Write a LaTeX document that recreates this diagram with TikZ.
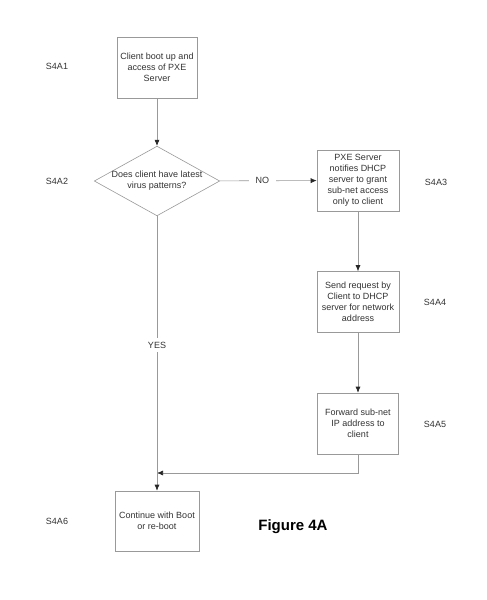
\documentclass[tikz,border=0pt]{standalone}
\usepackage{fontspec}
\setmainfont{Liberation Sans}
\usepackage{tikz}
\usetikzlibrary{arrows.meta,positioning,shapes}
\usepackage{xcolor}

\begin{document}
\begin{tikzpicture}[x=1pt, y=-1pt,
  every node/.style={font=\fontsize{9}{11}\selectfont, text=black!80},
  box/.style={rectangle, draw=black!40, line width=0.6pt, fill=white, minimum width=80pt, minimum height=61pt, align=center, inner sep=1pt},
  decision/.style={diamond, draw=black!40, line width=0.6pt, fill=white, minimum width=124pt, minimum height=68pt, shape aspect=1.8, inner sep=0pt, align=center},
  tag/.style={inner sep=0pt},
  lbl/.style={fill=white, inner xsep=7pt, inner ysep=4pt},
  flow/.style={draw=black!40, line width=0.6pt, -{Latex[length=6pt,width=5pt,color=black!85]}}]
\useasboundingbox[fill=white] (0,0) rectangle (487,600);

\node[box] (a1) at (157,67.5) {Client boot up and\\access of PXE\\Server};
\node[decision] (a2) at (157,181) {Does client have latest\\virus patterns?};
\node[box, minimum width=82pt] (a3) at (358,180.5) {PXE Server\\notifies DHCP\\server to grant\\sub-net access\\only to client};
\node[box, minimum width=82pt] (a4) at (358,302) {Send request by\\Client to DHCP\\server for network\\address};
\node[box, minimum width=81pt] (a5) at (358,423.5) {Forward sub-net\\IP address to\\client};
\node[box, minimum width=84pt, minimum height=60pt] (a6) at (157,521) {Continue with Boot\\or re-boot};
\coordinate (join) at (157,473);

\node[tag] (t1) at (57,66) {S4A1};
\node[tag] (t2) at (57,181) {S4A2};
\node[tag] (t3) at (436,182) {S4A3};
\node[tag] (t4) at (435,302) {S4A4};
\node[tag] (t5) at (435,424) {S4A5};
\node[tag] (t6) at (57,521) {S4A6};
\node[font=\fontsize{15}{18}\selectfont\bfseries, text=black] (fig) at (293,527) {Figure 4A};

\draw[flow] (a1) -- (a2);
\draw[flow] (a2) -- node[lbl, pos=0.44] {NO} (a3);
\draw[flow] (a3) -- (a4);
\draw[flow] (a4) -- (a5);
\draw[flow] (a5) |- (join);
\draw[flow] (a2) -- node[lbl, pos=0.47] {YES} (a6);
\end{tikzpicture}
\end{document}
